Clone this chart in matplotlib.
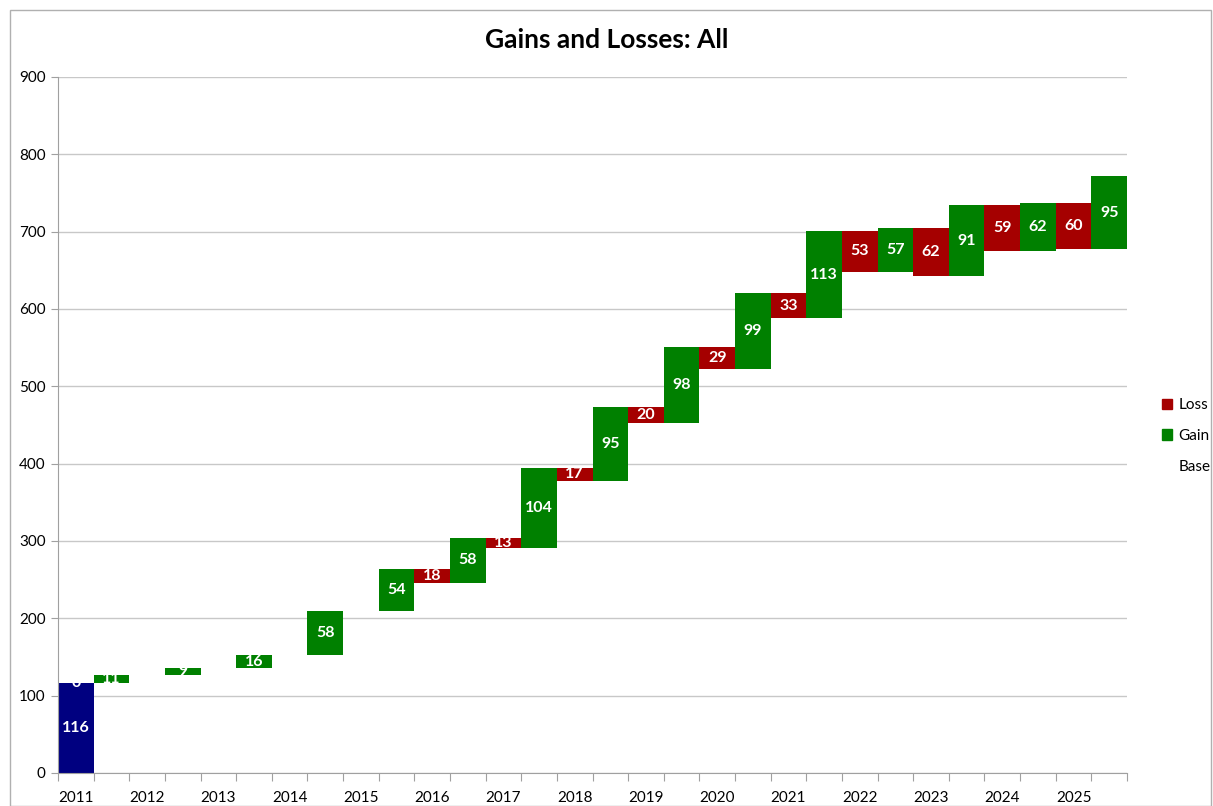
import numpy as np
import matplotlib.pyplot as plt
from matplotlib.patches import Rectangle, Patch

plt.rcParams['font.family'] = ['Lato', 'DejaVu Sans']

years = ['2011', '2012', '2013', '2014', '2015', '2016', '2017', '2018',
         '2019', '2020', '2021', '2022', '2023', '2024', '2025']
start = 116
losses = [0, 0, 0, 0, 0, 18, 13, 17, 20, 29, 33, 53, 62, 59, 60]
gains = [11, 9, 16, 58, 54, 58, 104, 95, 98, 99, 113, 57, 91, 62, 95]

red = '#A50000'
green = '#008000'
navy = '#000080'

fig = plt.figure(figsize=(12.13, 8.06), dpi=100)
ax = fig.add_axes([58 / 1213, 33 / 806, 1069 / 1213, 696 / 806])

total = start
ax.bar(0, start, width=1.0, color=navy, zorder=2)
ax.text(0, start / 2, str(start), color='white', ha='center', va='center',
        fontsize=11.5, fontweight='bold', zorder=3)
for i in range(len(years)):
    xl = 2 * i
    xg = 2 * i + 1
    lo = losses[i]
    total -= lo
    if lo > 0:
        ax.bar(xl, lo, bottom=total, width=1.0, color=red, zorder=2)
    if lo > 0 or i == 0:
        ax.text(xl, total + lo / 2, str(lo), color='white', ha='center',
                va='center', fontsize=11.5, fontweight='bold', zorder=3)
    g = gains[i]
    ax.bar(xg, g, bottom=total, width=1.0, color=green, zorder=2)
    ax.text(xg, total + g / 2, str(g), color='white', ha='center',
            va='center', fontsize=11.5, fontweight='bold', zorder=3)
    total += g

ax.set_xlim(-0.5, 2 * len(years) - 0.5)
ax.set_ylim(0, 900)
ax.set_yticks(np.arange(0, 901, 100))
ax.yaxis.grid(True, color='#c8c8c8', linewidth=1, zorder=0)
ax.set_axisbelow(True)
ax.set_xticks(np.arange(-0.5, 2 * len(years), 1.0), minor=False)
ax.set_xticklabels([])
ax.set_xticks(np.arange(0, 2 * len(years), 2), minor=True)
ax.set_xticklabels(years, minor=True)
ax.tick_params(axis='x', which='major', length=6, color='#a0a0a0', direction='out')
ax.tick_params(axis='x', which='minor', length=0, labelsize=11, pad=13)
ax.tick_params(axis='y', length=5, color='#a0a0a0', labelsize=11, pad=4)
for s in ['top', 'right']:
    ax.spines[s].set_visible(False)
for s in ['left', 'bottom']:
    ax.spines[s].set_color('#a0a0a0')

fig.text(0.5, 1 - 40 / 806, 'Gains and Losses: All', ha='center', va='center',
         fontsize=19, fontweight='bold')

handles = [Patch(color=red, label='Loss'), Patch(color=green, label='Gain'),
           Patch(color='none', label='Base')]
fig.legend(handles=handles, loc='center left', bbox_to_anchor=(1148 / 1213, 1 - 436 / 806),
           frameon=False, fontsize=11, handlelength=0.7, handleheight=0.7,
           handletextpad=0.4, labelspacing=1.1)

fig.patches.append(Rectangle((10 / 1213, 0), 1201 / 1213, 1 - 10 / 806,
                             transform=fig.transFigure, fill=False,
                             edgecolor='#b0b0b0', linewidth=1))

fig.savefig('out.png', dpi=100)
